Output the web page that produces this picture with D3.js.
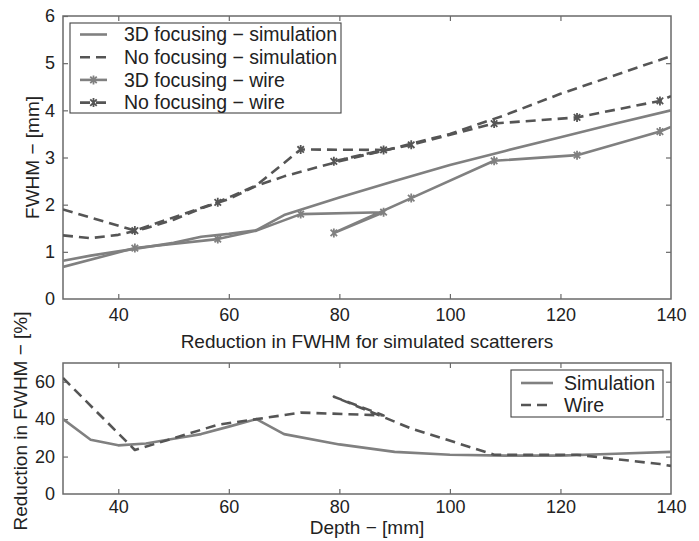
<!DOCTYPE html>
<html>
<head>
<meta charset="utf-8">
<script src="https://cdn.jsdelivr.net/npm/d3@7"></script>
<style>
  html, body { margin: 0; padding: 0; background: #fff; }
  svg { display: block; font-family: "Liberation Sans", Arial, sans-serif; }
</style>
</head>
<body>
<svg id="chart" width="699" height="541"></svg>
<script>
// ---- Upper panel: FWHM versus depth ----
const simDepth = [30, 35, 40, 45, 50, 55, 60, 65, 70, 80, 90, 100, 110, 120, 130, 140];
const sim3D    = [0.81, 0.92, 1.01, 1.10, 1.19, 1.32, 1.38, 1.46, 1.78, 2.15, 2.50, 2.84, 3.14, 3.43, 3.72, 4.00];
const simNoFoc = [1.35, 1.29, 1.36, 1.50, 1.68, 1.92, 2.12, 2.40, 2.60, 2.92, 3.20, 3.50, 3.90, 4.35, 4.75, 5.15];

// wire measurements, in acquisition order (second sweep starts at 79 mm)
const wireDepth  = [30, 43, 58, 65, 73, 88, 79, 93, 108, 123, 138, 140];
const wire3D     = [0.68, 1.08, 1.27, 1.45, 1.80, 1.84, 1.40, 2.14, 2.93, 3.05, 3.55, 3.65];
const wireNoFoc  = [1.90, 1.45, 2.05, 2.41, 3.17, 3.16, 2.92, 3.27, 3.72, 3.85, 4.20, 4.30];
const wireMarked = [false, true, true, false, true, true, true, true, true, true, true, false];

// ---- Lower panel: reduction in FWHM ----
const redSimDepth = [30, 35, 40, 45, 50, 55, 60, 65, 70, 80, 90, 100, 110, 120, 130, 140];
const redSim      = [40, 29, 26, 27, 29.5, 32, 36, 40, 32, 26.5, 22.5, 21, 20.5, 20.5, 21.5, 22.5];
const redWireDepth = [30, 43, 58, 65, 73, 88, 79, 93, 108, 123, 138, 140];
const redWire      = [62, 23.5, 37, 40, 43.5, 42, 52, 35, 21, 21, 16, 15];

const xTicks = [40, 60, 80, 100, 120, 140];
const yTicksTop = [0, 1, 2, 3, 4, 5, 6];
const yTicksBottom = [0, 20, 40, 60];

const topLegend = ["3D focusing \u2212 simulation", "No focusing \u2212 simulation", "3D focusing \u2212 wire", "No focusing \u2212 wire"];
const bottomLegend = ["Simulation", "Wire"];
const titles = {
  xTop: "Reduction in FWHM for simulated scatterers",
  yTop: "FWHM \u2212 [mm]",
  xBottom: "Depth \u2212 [mm]",
  yBottom: "Reduction in FWHM \u2212 [%]"
};

// ---- styling ----
const solidColor = "#808080";
const dashColor = "#555555";
const axisColor = "#6a6a6a";
const textColor = "#222";
const tickFont = 18;
const titleFont = 19;
const legendFont = 19.5;
const lineW = 2.6;
const dash = "10,6";

const svg = d3.select("#chart");
const L = 63, R = 671;

const x = d3.scaleLinear().domain([30, 140]).range([L, R]);
const yTop = d3.scaleLinear().domain([0, 6]).range([299, 16]);
const yBot = d3.scaleLinear().domain([0, 70]).range([494, 363]);

svg.append("defs").selectAll("clipPath")
  .data([["clipTop", yTop], ["clipBot", yBot]])
  .join("clipPath").attr("id", d => d[0])
  .append("rect")
  .attr("x", L).attr("width", R - L)
  .attr("y", d => d[1].range()[1]).attr("height", d => d[1].range()[0] - d[1].range()[1]);

const fmt = d3.format("d");

function frame(y, yTicks, xPad) {
  const [y0, y1] = y.range();
  const g = svg.append("g");
  const styleAxis = sel => {
    sel.select(".domain").remove();
    sel.selectAll(".tick line").attr("stroke", axisColor).attr("stroke-width", 1.2);
    sel.selectAll(".tick text").attr("fill", textColor).attr("font-size", tickFont)
      .attr("font-family", "Liberation Sans, Arial, sans-serif");
  };
  g.append("g").attr("transform", `translate(0,${y0})`)
    .call(d3.axisBottom(x).tickValues(xTicks).tickFormat(fmt).tickSizeInner(-5).tickSizeOuter(0).tickPadding(xPad))
    .call(styleAxis);
  g.append("g").attr("transform", `translate(0,${y1})`)
    .call(d3.axisTop(x).tickValues(xTicks.filter(v => v < 140)).tickSizeInner(-5).tickSizeOuter(0).tickFormat(""))
    .call(styleAxis);
  g.append("g").attr("transform", `translate(${L},0)`)
    .call(d3.axisLeft(y).tickValues(yTicks).tickFormat(fmt).tickSizeInner(-5).tickSizeOuter(0).tickPadding(8))
    .call(styleAxis);
  g.append("g").attr("transform", `translate(${R},0)`)
    .call(d3.axisRight(y).tickValues(yTicks.filter(v => v > 0 && v < y.domain()[1])).tickSizeInner(-5).tickSizeOuter(0).tickFormat(""))
    .call(styleAxis);
  g.selectAll(".tick").filter(d => d === 140 || d === 0).select("line").remove();
  g.append("rect").attr("x", L).attr("y", y1).attr("width", R - L).attr("height", y0 - y1)
    .attr("fill", "none").attr("stroke", axisColor).attr("stroke-width", 1.5);
}

function drawLine(parent, y, xs, ys, color, dashed) {
  const pts = xs.map((d, i) => [d, ys[i]]);
  parent.append("path").datum(pts)
    .attr("d", d3.line().x(d => x(d[0])).y(d => y(d[1])))
    .attr("fill", "none").attr("stroke", color).attr("stroke-width", lineW)
    .attr("stroke-linejoin", "round")
    .attr("stroke-dasharray", dashed ? dash : null);
}

// asterisk-like wire marker
function markerPath(cx, cy, r) {
  const d = r * 0.72;
  return `M${cx - d},${cy - d}L${cx + d},${cy + d}M${cx - d},${cy + d}L${cx + d},${cy - d}M${cx},${cy - r}L${cx},${cy + r}`;
}
function drawMarkers(parent, y, xs, ys, color) {
  parent.append("g").selectAll("path")
    .data(xs.map((d, i) => [d, ys[i], wireMarked[i]]).filter(d => d[2]))
    .join("path")
    .attr("d", d => markerPath(x(d[0]), y(d[1]), 4.5))
    .attr("stroke", color).attr("stroke-width", 1.8).attr("fill", "none");
}

// ---- upper panel ----
frame(yTop, yTicksTop, 9);
const gTop = svg.append("g").attr("clip-path", "url(#clipTop)");
drawLine(gTop, yTop, simDepth, sim3D, solidColor, false);
drawLine(gTop, yTop, wireDepth, wire3D, solidColor, false);
drawMarkers(gTop, yTop, wireDepth, wire3D, solidColor);
drawLine(gTop, yTop, simDepth, simNoFoc, dashColor, true);
drawLine(gTop, yTop, wireDepth, wireNoFoc, dashColor, true);
drawMarkers(gTop, yTop, wireDepth, wireNoFoc, dashColor);

// ---- lower panel ----
frame(yBot, yTicksBottom, 6);
const gBot = svg.append("g").attr("clip-path", "url(#clipBot)");
drawLine(gBot, yBot, redSimDepth, redSim, solidColor, false);
drawLine(gBot, yBot, redWireDepth, redWire, dashColor, true);

// ---- axis titles ----
const txt = (s, tx, ty, rot) => svg.append("text")
  .attr("transform", `translate(${tx},${ty})` + (rot ? " rotate(-90)" : ""))
  .attr("text-anchor", "middle").attr("fill", textColor).attr("font-size", titleFont)
  .text(s);
txt(titles.xTop, (L + R) / 2, 348);
txt(titles.yTop, 39, (16 + 299) / 2, true);
txt(titles.xBottom, (L + R) / 2, 534);
txt(titles.yBottom, 27, 421, true);

// ---- legends ----
function legend(box, rows, labels, styles) {
  const g = svg.append("g");
  g.append("rect").attr("x", box[0]).attr("y", box[1]).attr("width", box[2]).attr("height", box[3])
    .attr("fill", "#fff").attr("stroke", "#444").attr("stroke-width", 1.1);
  labels.forEach((lab, i) => {
    const s = styles[i], cy = rows.y0 + i * rows.dy;
    g.append("line").attr("x1", rows.x1).attr("x2", rows.x2).attr("y1", cy).attr("y2", cy)
      .attr("stroke", s.color).attr("stroke-width", lineW)
      .attr("stroke-dasharray", s.dashed ? dash : null);
    if (s.marker) {
      g.append("path").attr("d", markerPath((rows.x1 + rows.x2) / 2, cy, 4.5))
        .attr("stroke", s.color).attr("stroke-width", 1.8).attr("fill", "none");
    }
    g.append("text").attr("x", rows.tx).attr("y", cy).attr("dy", "0.35em")
      .attr("fill", textColor).attr("font-size", legendFont).text(lab);
  });
}
legend([70, 23, 271, 90], { y0: 34.5, dy: 22.7, x1: 80, x2: 107, tx: 124 }, topLegend, [
  { color: solidColor, dashed: false, marker: false },
  { color: dashColor, dashed: true, marker: false },
  { color: solidColor, dashed: false, marker: true },
  { color: dashColor, dashed: true, marker: true }
]);
legend([511, 370, 152, 47], { y0: 383, dy: 22, x1: 521, x2: 553, tx: 564 }, bottomLegend, [
  { color: solidColor, dashed: false },
  { color: dashColor, dashed: true }
]);
</script>
</body>
</html>
